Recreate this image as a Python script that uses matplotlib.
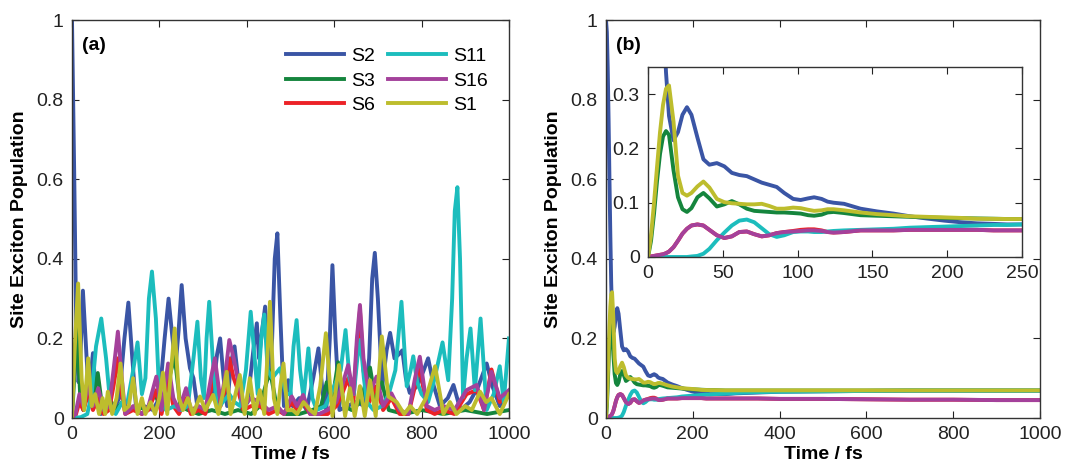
import matplotlib
matplotlib.use("Agg")
import matplotlib.pyplot as plt
import numpy as np

plt.rcParams['font.family'] = ['Liberation Sans', 'DejaVu Sans']

# series names and colours (legend order)
names = ['S2', 'S3', 'S6', 'S11', 'S16', 'S1']
colors = ['#3a55a5', '#15853d', '#ec2227', '#1cbdbd', '#a4419b', '#bdbd2d']

# ---- panel (a): (time fs, population) ----
a_s2 = [(0, 1.0), (5, 0.62), (10, 0.2), (15, 0.09), (19, 0.15), (25, 0.32), (31, 0.2), (38, 0.06),
        (48, 0.163), (56, 0.04), (66, 0.01), (80, 0.03), (95, 0.02), (108, 0.05), (120, 0.2),
        (129, 0.29), (138, 0.15), (147, 0.02), (165, 0.03), (185, 0.02), (200, 0.05), (212, 0.2),
        (221, 0.3), (230, 0.2), (237, 0.13), (244, 0.22), (251, 0.334), (260, 0.2), (270, 0.125),
        (278, 0.1), (288, 0.02), (305, 0.03), (322, 0.06), (332, 0.16), (339, 0.2), (347, 0.1),
        (355, 0.03), (364, 0.14), (372, 0.18), (380, 0.1), (390, 0.02), (402, 0.04), (415, 0.17),
        (423, 0.238), (428, 0.15), (435, 0.22), (442, 0.28), (452, 0.1), (458, 0.2), (464, 0.4),
        (470, 0.464), (477, 0.25), (485, 0.03), (495, 0.095), (505, 0.03), (520, 0.05), (537, 0.02),
        (552, 0.1), (564, 0.175), (574, 0.06), (582, 0.02), (590, 0.2), (596, 0.384), (603, 0.2),
        (612, 0.02), (630, 0.03), (650, 0.04), (670, 0.03), (680, 0.15), (687, 0.35), (693, 0.415),
        (700, 0.3), (710, 0.08), (720, 0.17), (728, 0.214), (738, 0.15), (748, 0.16), (756, 0.17),
        (764, 0.1), (773, 0.063), (790, 0.08), (805, 0.12), (815, 0.15), (828, 0.08), (842, 0.03),
        (860, 0.05), (873, 0.083), (889, 0.02), (910, 0.04), (930, 0.08), (949, 0.137), (962, 0.08),
        (979, 0.03), (1000, 0.06)]
a_s3 = [(0, 0), (5, 0.1), (12, 0.22), (19, 0.05), (26, 0.02), (35, 0.06), (45, 0.03), (59, 0.113),
        (70, 0.02), (85, 0.05), (100, 0.02), (115, 0.04), (130, 0.02), (150, 0.03), (170, 0.02),
        (190, 0.06), (205, 0.02), (222, 0.1), (235, 0.154), (248, 0.03), (265, 0.02), (290, 0.01),
        (320, 0.02), (350, 0.01), (380, 0.02), (410, 0.01), (430, 0.03), (453, 0.12), (470, 0.02),
        (490, 0.01), (520, 0.01), (550, 0.02), (570, 0.03), (583, 0.09), (595, 0.04), (609, 0.14),
        (622, 0.03), (640, 0.02), (660, 0.04), (682, 0.127), (695, 0.04), (709, 0.09), (725, 0.02),
        (760, 0.01), (800, 0.02), (850, 0.01), (900, 0.02), (950, 0.01), (1000, 0.02)]
a_s6 = [(0, 0), (8, 0.005), (17, 0.04), (26, 0.02), (37, 0.06), (48, 0.02), (60, 0.05), (72, 0.01),
        (85, 0.02), (95, 0.08), (105, 0.15), (114, 0.06), (122, 0.01), (140, 0.02), (160, 0.01),
        (175, 0.02), (193, 0.07), (205, 0.01), (220, 0.1), (232, 0.03), (245, 0.01), (261, 0.05),
        (272, 0.01), (290, 0.02), (305, 0.01), (318, 0.07), (327, 0.11), (340, 0.03), (350, 0.07),
        (360, 0.15), (370, 0.1), (380, 0.07), (392, 0.02), (410, 0.03), (430, 0.03), (450, 0.01),
        (470, 0.02), (485, 0.01), (503, 0.04), (515, 0.02), (529, 0.04), (545, 0.01), (565, 0.01),
        (585, 0.01), (605, 0.03), (618, 0.06), (632, 0.1), (644, 0.04), (652, 0.18), (659, 0.27),
        (667, 0.12), (680, 0.04), (697, 0.08), (712, 0.02), (731, 0.05), (750, 0.01), (770, 0.01),
        (785, 0.08), (796, 0.13), (812, 0.02), (830, 0.01), (850, 0.02), (875, 0.01), (903, 0.06),
        (926, 0.07), (943, 0.02), (960, 0.122), (979, 0.04), (1000, 0.06)]
a_s11 = [(0, 0), (20, 0.002), (35, 0.01), (45, 0.06), (55, 0.18), (67, 0.25), (78, 0.15), (88, 0.03),
         (100, 0.01), (115, 0.04), (127, 0.04), (140, 0.12), (150, 0.19), (160, 0.06), (168, 0.1),
         (176, 0.3), (183, 0.368), (192, 0.25), (200, 0.05), (215, 0.02), (235, 0.03), (250, 0.02),
         (265, 0.03), (278, 0.15), (287, 0.242), (295, 0.1), (302, 0.05), (308, 0.2), (314, 0.292),
         (322, 0.15), (332, 0.02), (345, 0.04), (360, 0.06), (372, 0.04), (385, 0.03), (398, 0.12),
         (409, 0.267), (418, 0.15), (425, 0.06), (433, 0.2), (440, 0.26), (448, 0.12), (458, 0.1),
         (476, 0.125), (490, 0.06), (500, 0.06), (507, 0.18), (514, 0.246), (522, 0.12), (530, 0.05),
         (541, 0.175), (550, 0.05), (560, 0.02), (580, 0.03), (600, 0.08), (615, 0.12), (626, 0.221),
         (635, 0.1), (645, 0.06), (653, 0.15), (660, 0.196), (668, 0.1), (675, 0.04), (690, 0.02),
         (710, 0.03), (725, 0.06), (740, 0.12), (754, 0.292), (766, 0.08), (775, 0.12), (781, 0.155),
         (790, 0.09), (800, 0.06), (815, 0.04), (830, 0.1), (848, 0.19), (861, 0.095), (870, 0.3),
         (876, 0.52), (882, 0.58), (888, 0.4), (895, 0.053), (903, 0.15), (912, 0.225), (922, 0.07),
         (935, 0.25), (949, 0.02), (965, 0.06), (979, 0.13), (988, 0.04), (1000, 0.2)]
a_s16 = [(0, 0), (8, 0.01), (17, 0.06), (26, 0.03), (37, 0.08), (48, 0.03), (60, 0.075), (72, 0.02),
         (85, 0.03), (95, 0.12), (105, 0.217), (114, 0.1), (122, 0.01), (140, 0.03), (160, 0.01),
         (175, 0.03), (193, 0.104), (205, 0.02), (220, 0.137), (232, 0.05), (245, 0.02), (261, 0.075),
         (272, 0.02), (290, 0.03), (305, 0.02), (318, 0.1), (327, 0.15), (340, 0.04), (350, 0.1),
         (360, 0.196), (370, 0.15), (380, 0.095), (392, 0.03), (410, 0.05), (430, 0.04), (450, 0.02),
         (470, 0.03), (485, 0.01), (503, 0.054), (515, 0.03), (529, 0.058), (545, 0.01), (565, 0.01),
         (585, 0.02), (605, 0.04), (618, 0.08), (632, 0.133), (644, 0.06), (652, 0.2), (659, 0.284),
         (667, 0.15), (680, 0.06), (697, 0.104), (712, 0.03), (731, 0.062), (750, 0.02), (770, 0.01),
         (785, 0.1), (796, 0.154), (812, 0.03), (830, 0.02), (850, 0.03), (875, 0.02), (903, 0.07),
         (926, 0.083), (943, 0.02), (960, 0.116), (979, 0.05), (1000, 0.07)]
a_s1 = [(0, 0), (6, 0.17), (14, 0.338), (22, 0.1), (28, 0.02), (37, 0.15), (45, 0.03), (53, 0.06),
        (62, 0.01), (70, 0.05), (76, 0.01), (82, 0.066), (92, 0.01), (102, 0.05), (111, 0.137),
        (120, 0.02), (130, 0.03), (140, 0.1), (150, 0.01), (160, 0.05), (168, 0.01), (180, 0.04),
        (190, 0.01), (200, 0.05), (208, 0.114), (218, 0.01), (235, 0.225), (245, 0.05), (254, 0.02),
        (265, 0.05), (277, 0.01), (293, 0.054), (305, 0.02), (323, 0.058), (335, 0.01), (345, 0.06),
        (354, 0.116), (363, 0.01), (372, 0.05), (384, 0.108), (395, 0.01), (407, 0.1), (418, 0.01),
        (430, 0.07), (440, 0.01), (447, 0.15), (453, 0.292), (462, 0.05), (470, 0.01), (477, 0.08),
        (484, 0.137), (493, 0.02), (505, 0.02), (515, 0.01), (530, 0.04), (545, 0.02), (556, 0.01),
        (568, 0.08), (581, 0.213), (596, 0.005), (611, 0.133), (625, 0.005), (636, 0.075), (647, 0.005),
        (659, 0.08), (670, 0.005), (682, 0.095), (695, 0.005), (709, 0.205), (724, 0.054), (743, 0.04),
        (760, 0.01), (774, 0.03), (790, 0.01), (810, 0.05), (831, 0.13), (850, 0.01), (865, 0.04),
        (880, 0.01), (900, 0.03), (915, 0.02), (934, 0.066), (948, 0.04), (960, 0.05), (979, 0.01),
        (1000, 0.06)]

# ---- panel (b): common time grid (fs) and populations ----
t_b = [0, 2, 4, 6, 8, 10, 12, 14, 17, 20, 23, 26, 29, 33, 37, 41, 46, 51, 56, 61, 66, 71, 76, 81, 86,
       91, 97, 102, 107, 111, 116, 120, 124, 131, 142, 153, 164, 175, 186, 198, 209, 220, 231, 240,
       250, 275, 300, 350, 400, 500, 600, 700, 800, 900, 1000]
b_s2 = [1.0, 0.97, 0.88, 0.75, 0.6, 0.46, 0.34, 0.26, 0.215, 0.23, 0.262, 0.276, 0.262, 0.22, 0.18,
        0.17, 0.173, 0.167, 0.155, 0.151, 0.149, 0.143, 0.137, 0.133, 0.129, 0.118, 0.107, 0.105,
        0.108, 0.11, 0.107, 0.102, 0.1, 0.098, 0.089, 0.084, 0.08, 0.075, 0.071, 0.067, 0.064, 0.062,
        0.061, 0.06, 0.06, 0.06, 0.062, 0.064, 0.066, 0.067, 0.068, 0.069, 0.069, 0.069, 0.069]
b_s3 = [0, 0.03, 0.08, 0.14, 0.19, 0.222, 0.232, 0.225, 0.16, 0.11, 0.088, 0.083, 0.09, 0.11, 0.118,
        0.108, 0.093, 0.097, 0.103, 0.097, 0.089, 0.085, 0.084, 0.083, 0.082, 0.082, 0.081, 0.08,
        0.077, 0.076, 0.078, 0.082, 0.083, 0.081, 0.077, 0.076, 0.075, 0.074, 0.073, 0.072, 0.0715,
        0.071, 0.0705, 0.07, 0.07, 0.069, 0.069, 0.069, 0.069, 0.069, 0.069, 0.069, 0.069, 0.069, 0.069]
b_s6 = [0, 0.001, 0.002, 0.003, 0.004, 0.005, 0.007, 0.01, 0.018, 0.03, 0.043, 0.052, 0.058, 0.06,
        0.058, 0.05, 0.04, 0.035, 0.038, 0.046, 0.047, 0.042, 0.038, 0.04, 0.044, 0.046, 0.048, 0.05,
        0.051, 0.051, 0.049, 0.046, 0.045, 0.046, 0.049, 0.049, 0.049, 0.05, 0.05, 0.05, 0.05, 0.05,
        0.049, 0.049, 0.049, 0.049, 0.049, 0.049, 0.048, 0.048, 0.047, 0.046, 0.046, 0.045, 0.045]
b_s11 = [0, 0, 0, 0, 0, 0, 0, 0, 0, 0, 0, 0, 0.001, 0.002, 0.006, 0.015, 0.031, 0.045, 0.058, 0.067,
         0.069, 0.064, 0.053, 0.042, 0.037, 0.04, 0.046, 0.047, 0.047, 0.046, 0.046, 0.047, 0.048,
         0.049, 0.05, 0.051, 0.052, 0.054, 0.055, 0.056, 0.057, 0.058, 0.059, 0.059, 0.06, 0.061,
         0.063, 0.065, 0.066, 0.067, 0.068, 0.069, 0.069, 0.069, 0.069]
b_s16 = [0, 0.001, 0.002, 0.003, 0.004, 0.005, 0.007, 0.01, 0.018, 0.03, 0.043, 0.052, 0.058, 0.06,
         0.058, 0.05, 0.04, 0.035, 0.038, 0.046, 0.047, 0.042, 0.038, 0.04, 0.044, 0.046, 0.047, 0.048,
         0.049, 0.049, 0.048, 0.046, 0.045, 0.046, 0.049, 0.049, 0.049, 0.05, 0.05, 0.05, 0.05, 0.05,
         0.049, 0.049, 0.049, 0.049, 0.049, 0.049, 0.048, 0.048, 0.047, 0.046, 0.046, 0.045, 0.045]
b_s1 = [0, 0.04, 0.1, 0.166, 0.23, 0.28, 0.31, 0.316, 0.25, 0.15, 0.118, 0.113, 0.118, 0.13, 0.139,
        0.128, 0.107, 0.101, 0.099, 0.098, 0.097, 0.097, 0.098, 0.094, 0.089, 0.089, 0.091, 0.09, 0.087,
        0.085, 0.086, 0.088, 0.088, 0.086, 0.082, 0.079, 0.077, 0.075, 0.074, 0.073, 0.072, 0.0706,
        0.0703, 0.07, 0.07, 0.0695, 0.0695, 0.0695, 0.0695, 0.0695, 0.0695, 0.0695, 0.0695, 0.0695, 0.0695]

panel_a = [a_s2, a_s3, a_s6, a_s11, a_s16, a_s1]
panel_b = [b_s2, b_s3, b_s6, b_s11, b_s16, b_s1]

LW = 2.8
FS = 14


def style_axes(ax):
    ax.tick_params(direction='in', top=True, right=True, length=5, width=0.8,
                   labelsize=FS, colors='#222222', pad=6)
    for sp in ax.spines.values():
        sp.set_linewidth(1.0)
        sp.set_color('#333333')
    ax.xaxis.set_major_formatter(plt.FuncFormatter(lambda v, p: '%g' % v))
    ax.yaxis.set_major_formatter(plt.FuncFormatter(lambda v, p: '%g' % v))


fig = plt.figure(figsize=(10.65, 4.66), dpi=100)
ax1 = fig.add_axes([0.0676, 0.103, 0.4103, 0.854])
ax2 = fig.add_axes([0.569, 0.103, 0.4075, 0.854])

# panel (a)
for pts, name, c in zip(panel_a, names, colors):
    arr = np.array(pts, dtype=float)
    ax1.plot(arr[:, 0], arr[:, 1], color=c, lw=LW, label=name, solid_joinstyle='round')
ax1.set_xlim(0, 1000)
ax1.set_ylim(0, 1)
ax1.set_xticks(np.arange(0, 1001, 200))
ax1.set_yticks(np.arange(0, 1.01, 0.2))
style_axes(ax1)
ax1.set_xlabel('Time / fs', fontsize=FS, fontweight='bold', labelpad=2)
ax1.set_ylabel('Site Exciton Population', fontsize=FS, fontweight='bold', labelpad=6)
ax1.text(0.024, 0.937, '(a)', transform=ax1.transAxes, fontsize=FS, fontweight='bold',
         va='center', ha='left')
ax1.legend(ncol=2, frameon=False, loc='upper left', bbox_to_anchor=(0.467, 0.955),
           fontsize=FS, handlelength=3.0, handletextpad=0.36, columnspacing=0.67,
           labelspacing=0.35, borderpad=0)

# panel (b)
for vals, name, c in zip(panel_b, names, colors):
    ax2.plot(t_b, vals, color=c, lw=LW, solid_joinstyle='round')
ax2.set_xlim(0, 1000)
ax2.set_ylim(0, 1)
ax2.set_xticks(np.arange(0, 1001, 200))
ax2.set_yticks(np.arange(0, 1.01, 0.2))
style_axes(ax2)
ax2.set_xlabel('Time / fs', fontsize=FS, fontweight='bold', labelpad=2)
ax2.set_ylabel('Site Exciton Population', fontsize=FS, fontweight='bold', labelpad=6)
ax2.text(0.022, 0.937, '(b)', transform=ax2.transAxes, fontsize=FS, fontweight='bold',
         va='center', ha='left')

# inset of (b)
ax3 = fig.add_axes([0.6085, 0.4485, 0.3512, 0.4077])
for vals, name, c in zip(panel_b, names, colors):
    ax3.plot(t_b, vals, color=c, lw=LW, solid_joinstyle='round')
ax3.set_xlim(0, 250)
ax3.set_ylim(0, 0.35)
ax3.set_xticks(np.arange(0, 251, 50))
ax3.set_yticks([0, 0.1, 0.2, 0.3])
style_axes(ax3)

fig.savefig('out.png', dpi=100)
